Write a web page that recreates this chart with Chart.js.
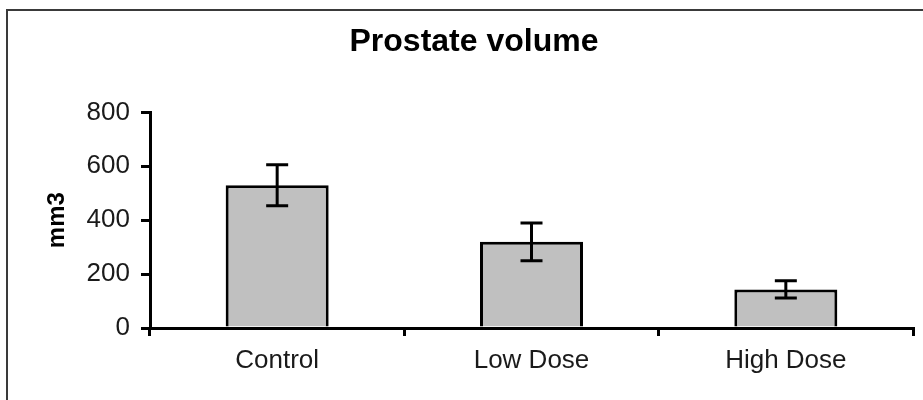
<!DOCTYPE html>
<html>
<head>
<meta charset="utf-8">
<script src="https://cdn.jsdelivr.net/npm/chart.js@4.4.0/dist/chart.umd.min.js"></script>
<style>
  html, body { margin: 0; padding: 0; background: #fff; }
  #wrap { width: 923px; height: 400px; position: relative; }
</style>
</head>
<body>
<div id="wrap"><canvas id="c" width="923" height="400"></canvas></div>
<script>
const categories = ["Control", "Low Dose", "High Dose"];
const volumes = [530, 320, 143];
const errors = [76, 70, 32];
const yTicks = [0, 200, 400, 600, 800];

const FONT = 'Liberation Sans, Arial, sans-serif';

const frame = {
  id: 'frame',
  beforeDraw(chart) {
    const ctx = chart.ctx;
    ctx.save();
    ctx.fillStyle = '#fff';
    ctx.fillRect(0, 0, chart.width, chart.height);
    ctx.strokeStyle = '#3a3a3a';
    ctx.lineWidth = 2;
    ctx.strokeRect(7, 10, 1000, 1000);
    ctx.restore();
  }
};

const errorBars = {
  id: 'errorBars',
  afterDatasetsDraw(chart) {
    const ctx = chart.ctx;
    const meta = chart.getDatasetMeta(0);
    const y = chart.scales.y;
    ctx.save();
    ctx.strokeStyle = '#000';
    ctx.lineWidth = 3;
    meta.data.forEach((bar, i) => {
      const x = bar.x;
      const top = y.getPixelForValue(volumes[i] + errors[i]);
      const bot = y.getPixelForValue(volumes[i] - errors[i]);
      const hw = 11;
      ctx.beginPath();
      ctx.moveTo(x, top); ctx.lineTo(x, bot);
      ctx.moveTo(x - hw, top); ctx.lineTo(x + hw, top);
      ctx.moveTo(x - hw, bot); ctx.lineTo(x + hw, bot);
      ctx.stroke();
    });
    ctx.restore();
  }
};

new Chart(document.getElementById('c'), {
  type: 'bar',
  data: {
    labels: categories,
    datasets: [{
      data: volumes,
      backgroundColor: '#c0c0c0',
      borderColor: '#000',
      borderWidth: 3,
      borderSkipped: 'bottom',
      categoryPercentage: 1,
      barPercentage: 0.405
    }]
  },
  options: {
    responsive: false,
    animation: false,
    devicePixelRatio: 1,
    layout: { padding: { left: 35, right: 10, top: 0, bottom: 8 } },
    plugins: {
      legend: { display: false },
      tooltip: { enabled: false },
      title: {
        display: true,
        text: 'Prostate volume',
        color: '#000',
        font: { family: FONT, size: 32, weight: 'bold' },
        padding: { top: 23, bottom: 51 }
      }
    },
    scales: {
      x: {
        grid: { display: true, drawOnChartArea: false, drawTicks: true, tickLength: 8, color: '#000', lineWidth: 3, offset: true },
        border: { display: true, color: '#000', width: 3 },
        ticks: { color: '#1a1a1a', padding: 9, font: { family: FONT, size: 26 } },
        afterFit(s) { s.height = 64; }
      },
      y: {
        min: 0, max: 800,
        afterBuildTicks(s) { s.ticks = yTicks.map(v => ({ value: v })); },
        grid: { display: true, drawOnChartArea: false, drawTicks: true, tickLength: 9, color: '#000', lineWidth: 3 },
        border: { display: true, color: '#000', width: 3 },
        ticks: { color: '#1a1a1a', padding: 11, font: { family: FONT, size: 26 } },
        title: {
          display: true, text: 'mm3', color: '#000', padding: { top: 8, bottom: 0 },
          font: { family: FONT, size: 24, weight: 'bold' }
        },
        afterFit(s) { s.width = 115; }
      }
    }
  },
  plugins: [frame, errorBars]
});
</script>
</body>
</html>
